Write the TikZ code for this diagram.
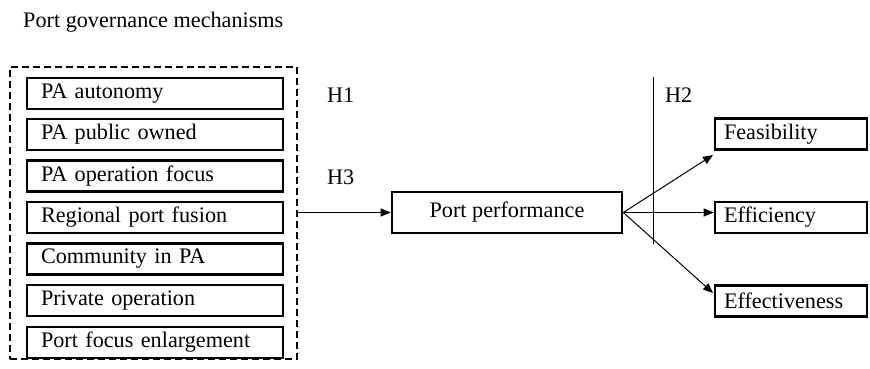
\documentclass[tikz,border=0pt]{standalone}
\usepackage{fontspec}
\setmainfont{Liberation Serif}
\usetikzlibrary{arrows.meta}
\begin{document}
\begin{tikzpicture}[x=1pt,y=-1pt,
  every node/.style={font=\fontsize{22.2}{26}\selectfont},
  mechbox/.style={draw,line width=2.6pt,rectangle,minimum height=31pt,
    text width=228pt,inner xsep=14pt,inner ysep=0pt,align=left},
  outbox/.style={draw,line width=2.6pt,rectangle,minimum height=31pt,
    text width=134pt,inner xsep=9pt,inner ysep=0pt,align=left},
  link/.style={line width=1pt,-{Triangle[length=10pt,width=8pt]}},
  lbl/.style={inner sep=0pt}
]
\useasboundingbox (0,0) rectangle (870,369);

% heading
\node[lbl,anchor=west] (title) at (23,22) {Port governance mechanisms};

% dashed frame around the governance mechanisms
\node[draw,dash pattern=on 7pt off 4pt,line width=2.4pt,rectangle,
  minimum width=287pt,minimum height=292pt,inner sep=0pt] (gov) at (153.5,213) {};

% governance mechanisms
\node[mechbox] (m1) at (155,93.5)  {PA autonomy};
\node[mechbox] (m2) at (155,134.5) {PA public owned};
\node[mechbox] (m3) at (155,176)   {PA operation focus};
\node[mechbox] (m4) at (155,217.5) {Regional port fusion};
\node[mechbox] (m5) at (155,259)   {Community in PA};
\node[mechbox] (m6) at (155,300.5) {Private operation};
\node[mechbox] (m7) at (155,342.5) {Port focus enlargement};

% central construct
\node[draw,line width=2.6pt,rectangle,minimum width=230pt,minimum height=41pt,
  inner sep=0pt] (perf) at (507,212.5) {Port performance};

% performance dimensions
\node[outbox] (feas) at (791,134)   {Feasibility};
\node[outbox] (effi) at (791,217.5) {Efficiency};
\node[outbox] (effe) at (791,301)   {Effectiveness};

% hypothesis labels
\node[lbl,anchor=west] (h1) at (327,95)  {H1};
\node[lbl,anchor=west] (h3) at (327,177) {H3};
\node[lbl,anchor=west] (h2) at (665,95)  {H2};

% connectors
\draw[link] (gov.east |- perf.west) -- (perf.west);
\coordinate (feastip) at (713,155);
\coordinate (effetip) at (713,293);
\draw[link] (perf.east) -- (feastip);
\draw[link] (perf.east) -- (perf.east -| effi.west);
\draw[link] (perf.east) -- (effetip);

% moderating line for H2
\coordinate (vtop) at (653,77);
\coordinate (vbot) at (653,244);
\draw[line width=1pt] (vtop) -- (vbot);
\end{tikzpicture}
\end{document}
